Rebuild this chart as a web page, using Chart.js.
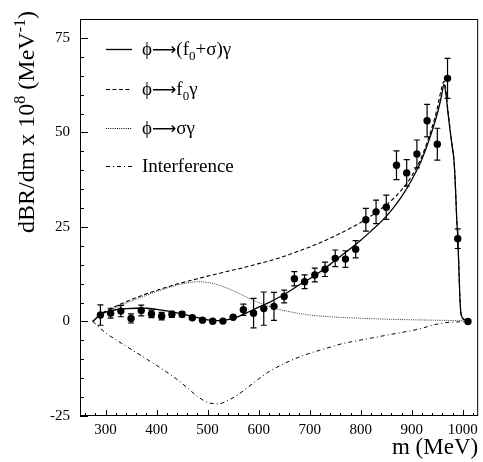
<!DOCTYPE html>
<html>
<head>
<meta charset="utf-8">
<script src="https://cdn.jsdelivr.net/npm/chart.js@4.4.0/dist/chart.umd.min.js"></script>
<style>
body { margin:0; background:#fff; }
canvas { display:block; }
</style>
</head>
<body>
<canvas id="chart" width="483" height="462"></canvas>
<script>
// ---------------- Data ----------------

// measured points (bin centres, MeV) with errors
const dataM   = [290,310,330,350,370,390,410,430,450,470,490,510,530,550,570,590,610,630,650,670,690,710,730,750,770,790,810,830,850,870,890,910,930,950,970,990,1010];
const dataY   = [1.7,2.2,2.75,0.8,2.9,2.0,1.4,1.9,1.9,1.0,0.35,0.05,0.1,1.1,3.1,2.2,3.4,4.0,6.6,11.3,10.5,12.3,13.8,16.7,16.5,19.1,26.9,29.0,30.2,41.3,39.3,44.3,53.1,46.9,64.3,21.9,0.0];
const dataErr = [2.7,1.3,1.5,1.2,1.4,1.0,1.0,0.8,0.7,0.4,0.3,0.2,0.2,0.4,1.5,3.9,4.4,3.7,1.7,1.9,1.8,1.8,1.9,2.2,2.2,2.3,3.0,3.1,3.2,3.8,3.5,3.7,4.3,4.2,5.3,2.6,0.2];

// fit curves
const curveM = [275,290,300,320,340,360,380,400,420,440,460,480,500,520,540,560,580,600,620,640,660,680,700,720,740,760,780,800,820,840,860,880,900,920,940,950,958,963,967,971,975,979,983,986,988,990,992,994,996,999,1003,1010];

const totalY = [0,1.9,2.5,3.1,3.4,3.5,3.5,3.2,2.8,2.3,1.7,1.0,0.4,0.2,0.5,1.3,2.5,3.8,5.0,6.4,8.0,9.7,11.3,13.1,15.1,17.2,19.3,21.5,23.9,26.4,29.4,33.0,37.5,43.0,50.5,55.0,59.5,62.7,60.0,55.0,50.5,46.5,42.0,34.0,27.0,22.5,15.0,7.0,2.5,1.0,0.5,0.2];

const f0Y = [0,1.8,2.7,4.0,5.2,6.3,7.3,8.2,9.1,9.9,10.6,11.3,12.0,12.6,13.3,13.9,14.6,15.3,16.0,16.8,17.7,18.7,19.7,20.8,22.0,23.3,24.7,26.2,27.9,29.8,32.0,34.8,38.5,43.8,51.5,56.5,61.5,63.5,61.0,55.5,51.0,46.5,42.0,34.0,27.0,22.5,15.0,7.0,2.5,1.0,0.5,0.2];

const sigmaY = [0,1.5,2.3,3.6,4.8,5.9,6.9,7.9,8.8,9.6,10.2,10.5,10.3,9.7,8.7,7.5,6.2,5.0,4.0,3.2,2.6,2.1,1.7,1.45,1.25,1.1,0.95,0.85,0.75,0.65,0.55,0.5,0.45,0.4,0.35,0.33,0.31,0.3,0.3,0.29,0.28,0.27,0.26,0.25,0.25,0.24,0.24,0.23,0.23,0.22,0.2,0.15];

const interfY = [0,-1.8,-3.0,-4.8,-6.5,-8.2,-9.9,-11.6,-13.4,-15.3,-17.5,-19.8,-21.4,-21.8,-20.9,-19.3,-17.3,-15.2,-13.3,-11.8,-10.5,-9.4,-8.4,-7.6,-6.8,-6.0,-5.4,-4.9,-4.4,-3.9,-3.4,-2.9,-2.4,-1.8,-1.0,-0.7,-0.5,-0.4,-0.3,-0.25,-0.2,-0.17,-0.15,-0.13,-0.12,-0.11,-0.1,-0.09,-0.08,-0.06,-0.03,0];

// axes
const xTicks = [300,400,500,600,700,800,900,1000];
const yTicks = [-25,0,25,50,75];

// legend text pieces: 0 normal, 1 subscript, 2 arrow
const legendLabels = [
    [["ϕ",0],["⟶",2],["(f",0],["0",1],["+σ)γ",0]],
    [["ϕ",0],["⟶",2],["f",0],["0",1],["γ",0]],
    [["ϕ",0],["⟶",2],["σγ",0]],
    [["Interference",0]]
];

// ---------------- Helpers ----------------

const SERIF = "'Liberation Serif', 'Times New Roman', serif";

function pts(xs, ys){
    return xs.map((x,i)=>({x:x, y:ys[i]}));
}

function curve(label, ys, dash, width, color){
    return {
        label:label,
        data:pts(curveM, ys),
        borderColor:color,
        borderWidth:width,
        borderDash:dash,
        pointRadius:0,
        fill:false,
        cubicInterpolationMode:"monotone"
    };
}

// ---------------- Plugins ----------------

// error bars for the measured points
const errorBars = {
    id:"errorBars",
    afterDatasetsDraw(chart){
        const ctx = chart.ctx;
        const xs = chart.scales.x, ys = chart.scales.y;
        ctx.save();
        ctx.strokeStyle = "#000";
        ctx.lineWidth = 1.2;
        dataM.forEach((m,i)=>{
            const px = xs.getPixelForValue(m);
            const top = ys.getPixelForValue(dataY[i] + dataErr[i]);
            const bot = ys.getPixelForValue(dataY[i] - dataErr[i]);
            ctx.beginPath();
            ctx.moveTo(px, top); ctx.lineTo(px, bot);
            ctx.moveTo(px-3, top); ctx.lineTo(px+3, top);
            ctx.moveTo(px-3, bot); ctx.lineTo(px+3, bot);
            ctx.stroke();
        });
        ctx.restore();
    }
};

// frame, inward ticks, y title, legend
const frame = {
    id:"frame",
    afterDraw(chart){
        const ctx = chart.ctx;
        const a = chart.chartArea;
        const xs = chart.scales.x, ys = chart.scales.y;
        ctx.save();
        ctx.strokeStyle = "#000";
        ctx.lineWidth = 1;
        ctx.strokeRect(a.left+0.5, a.top+0.5, a.right-a.left-1, a.bottom-a.top-1);

        ctx.beginPath();
        for(let v=-25; v<=80; v+=5){
            const py = Math.round(ys.getPixelForValue(v))+0.5;
            const len = (v % 25 === 0) ? 8 : 4;
            ctx.moveTo(a.left, py); ctx.lineTo(a.left+len, py);
        }
        for(let v=260; v<=1020; v+=20){
            const px = Math.round(xs.getPixelForValue(v))+0.5;
            const len = (v % 100 === 0) ? 6 : 3;
            ctx.moveTo(px, a.bottom); ctx.lineTo(px, a.bottom-len);
        }
        ctx.stroke();

        // y title with superscripts
        const parts = [["dBR/dm x 10",0],["8",1],[" (MeV",0],["-1",1],[")",0]];
        const big = "24px "+SERIF, small = "16px "+SERIF;
        let w = 0;
        parts.forEach(p=>{ ctx.font = p[1] ? small : big; w += ctx.measureText(p[0]).width; });
        ctx.translate(34, 122);
        ctx.rotate(-Math.PI/2);
        ctx.fillStyle = "#000";
        ctx.textBaseline = "alphabetic";
        let x = -w/2;
        parts.forEach(p=>{
            ctx.font = p[1] ? small : big;
            ctx.fillText(p[0], x, p[1] ? -9 : 0);
            x += ctx.measureText(p[0]).width;
        });
        ctx.restore();

        // legend
        const styles = [[[],1.3],[[4,2.5],1.1],[[1,1.2],1],[[4,3,1,3],1]];
        const rows = [49,89,128,166];
        const fonts = ["19px "+SERIF, "13px "+SERIF, "17px 'DejaVu Sans', sans-serif"];
        const lift = [6, 11, 6];
        ctx.save();
        ctx.strokeStyle = "#000";
        ctx.fillStyle = "#000";
        rows.forEach((ry,i)=>{
            ctx.setLineDash(styles[i][0]);
            ctx.lineWidth = styles[i][1];
            ctx.beginPath();
            ctx.moveTo(106, ry+0.5); ctx.lineTo(132, ry+0.5);
            ctx.stroke();
            let tx = 142;
            ctx.textBaseline = "alphabetic";
            legendLabels[i].forEach(p=>{
                ctx.font = fonts[p[1]];
                ctx.fillText(p[0], tx, ry + lift[p[1]]);
                tx += ctx.measureText(p[0]).width;
            });
        });
        ctx.restore();
    }
};

// ---------------- Chart ----------------

new Chart(document.getElementById("chart"),{
    type:"line",
    data:{
        datasets:[
            curve("ϕ→(f0+σ)γ", totalY, [], 1.3, "#000"),
            curve("ϕ→f0γ", f0Y, [4,2.5], 1.1, "#000"),
            curve("ϕ→σγ", sigmaY, [1,1.2], 1, "#333"),
            curve("Interference", interfY, [4,3,1,3], 1, "#000"),
            {
                label:"data",
                data:pts(dataM, dataY),
                showLine:false,
                pointRadius:3.7,
                pointBackgroundColor:"#000",
                pointBorderWidth:0
            }
        ]
    },
    options:{
        responsive:false,
        animation:false,
        devicePixelRatio:1,
        layout:{ padding:{ top:10, right:3, left:0, bottom:0 } },
        plugins:{ legend:{ display:false }, tooltip:{ enabled:false } },
        scales:{
            x:{
                type:"linear",
                min:250,
                max:1030,
                afterBuildTicks: s => { s.ticks = xTicks.map(v=>({value:v})); },
                afterFit: s => { s.height = 46; },
                grid:{ display:false, drawTicks:false },
                border:{ display:false },
                ticks:{ autoSkip:false, maxRotation:0, padding:5, color:"#000", font:{ family:SERIF, size:15 }, callback: v => String(v) },
                title:{ display:true, text:"m (MeV)", align:"end", color:"#000", font:{ family:SERIF, size:23 }, padding:{ top:0, bottom:0 } }
            },
            y:{
                min:-25,
                max:80,
                afterBuildTicks: s => { s.ticks = yTicks.map(v=>({value:v})); },
                afterFit: s => { s.width = 80; },
                grid:{ display:false, drawTicks:false },
                border:{ display:false },
                ticks:{ autoSkip:false, padding:10, color:"#000", font:{ family:SERIF, size:15 }, callback: v => String(v) }
            }
        }
    },
    plugins:[errorBars, frame]
});
</script>
</body>
</html>
